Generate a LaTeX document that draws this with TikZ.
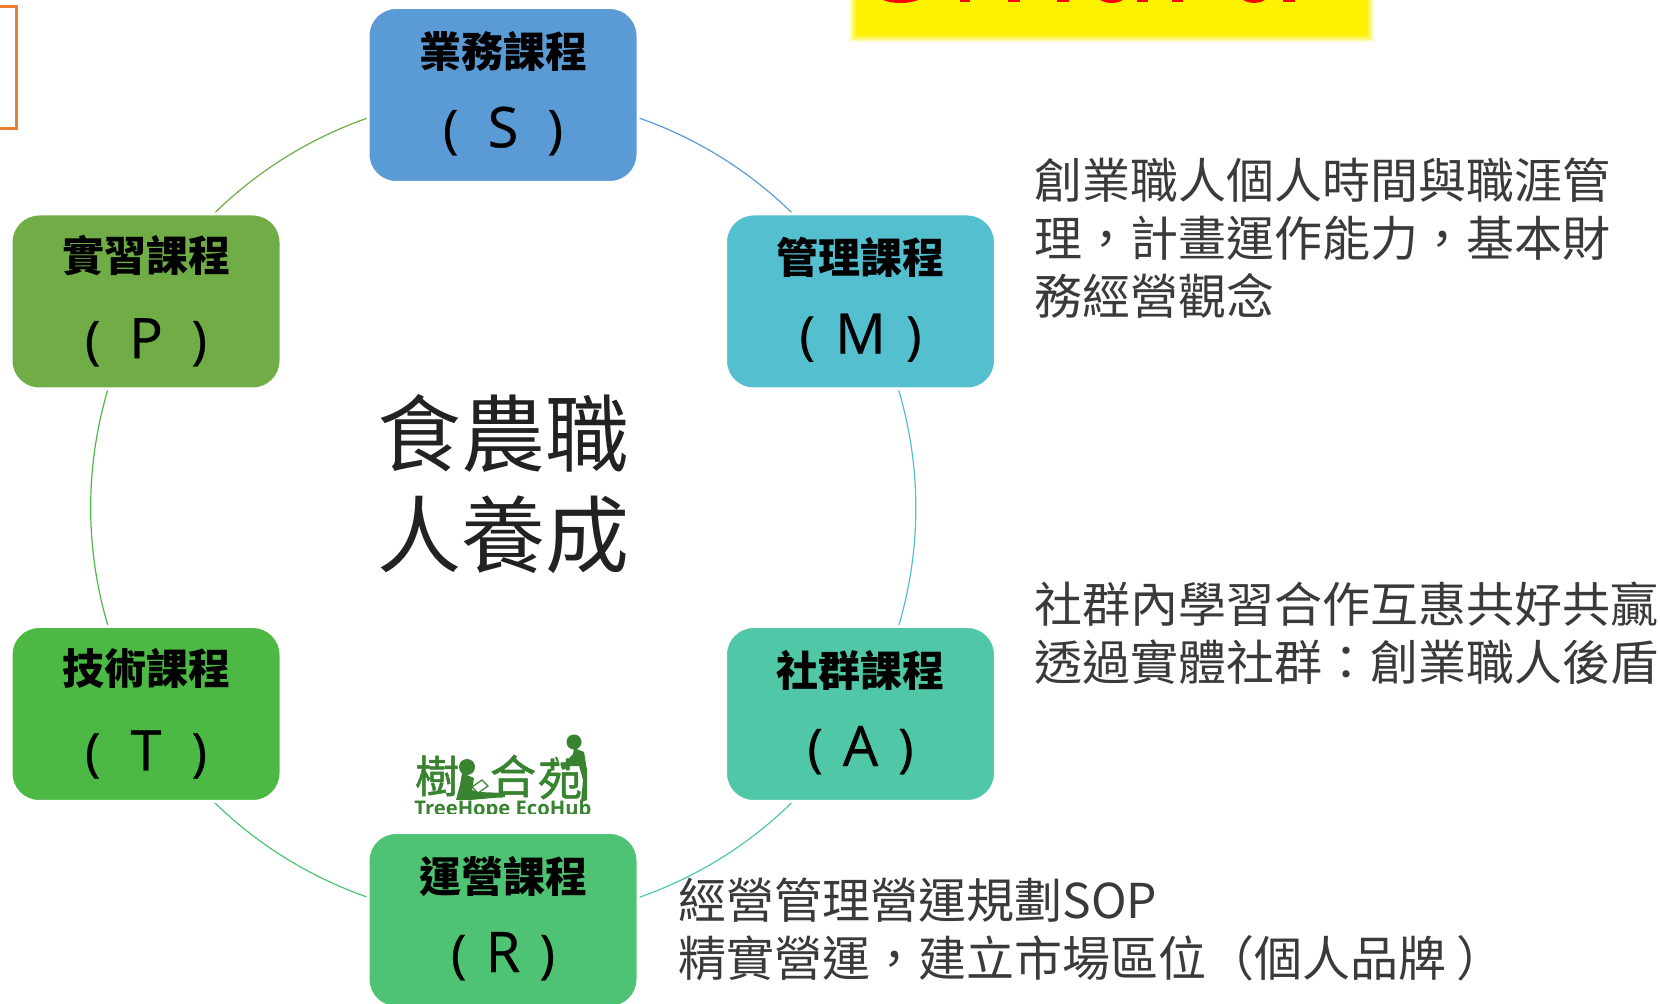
\documentclass[tikz,border=0pt]{standalone}
\usepackage{fontspec}
\setmainfont{Noto Sans CJK TC}
\newfontfamily\latinface{Open Sans}
\newfontfamily\letterface{Open Sans}[FakeBold=0.5]
\newfontfamily\logoface{Noto Sans CJK TC}[FakeBold=1.2]
\usetikzlibrary{calc}
\pgfdeclarelayer{bg}
\pgfsetlayers{bg,main}
\definecolor{cS}{HTML}{5B9BD5}
\definecolor{cM}{HTML}{53BFCF}
\definecolor{cA}{HTML}{50C8A8}
\definecolor{cR}{HTML}{4DC373}
\definecolor{cT}{HTML}{4CB944}
\definecolor{cP}{HTML}{70AD47}
\definecolor{logo}{HTML}{37832F}
\definecolor{ink}{HTML}{3A3A3A}
\definecolor{hubink}{HTML}{222222}
\definecolor{orangeline}{HTML}{ED7D31}
\tikzset{
  course/.style={draw=white,line width=1.5pt,rounded corners=14pt,minimum width=135pt,minimum height=87.5pt,inner sep=0pt,align=center,text=black},
  ring/.style={line width=0.6pt},
  note/.style={anchor=west,align=left,inner sep=0pt,text=ink,font=\fontsize{24}{29}\selectfont},
  hub/.style={align=center,inner sep=0pt,text=hubink,font=\fontsize{42}{50.5}\selectfont},
  logotext/.style={inner sep=0pt,text=logo},
}
\newcommand{\tightlabel}[3]{\raisebox{#3}[\height][\depth]{\fontsize{21}{25}\selectfont\bfseries #1}\\[#2]}
\newcommand{\codeletter}[2]{{\letterface\fontsize{28}{30}\selectfont\makebox[#2]{{\fontsize{26}{30}\selectfont(}\hfill #1\hfill{\fontsize{26}{30}\selectfont)}}}}
\begin{document}
\begin{tikzpicture}[x=0.5pt,y=-0.5pt]
\useasboundingbox (0,0) rectangle (1660,1004);
\clip (0,0) rectangle (1660,1004);
% cut-off elements at the top
\draw[orangeline,line width=1.5pt] (-5,7) -- (16,7) -- (16,129) -- (-5,129);
\fill[yellow,opacity=.25] (850,-5) rectangle (1374,42);
\fill[yellow,opacity=.35] (852,-5) rectangle (1372,40);
\fill[yellow,opacity=.5] (854,-5) rectangle (1370,38);
\fill[yellow,opacity=.7] (856,-5) rectangle (1368,36);
\fill[yellow] (858,-5) rectangle (1366,34);
\fill[red] (883,0) .. controls (892,4) and (909,4) .. (918,0) -- cycle;
\fill[red] (960,0) rectangle (970,2.5);
\fill[red] (1008,0) rectangle (1020,2.5);
\fill[red] (1057,0) rectangle (1069,2.5);
\fill[red] (1100,0) .. controls (1107,4) and (1116,4) .. (1123,0) -- cycle;
\fill[red] (1137,0) rectangle (1148,2.5);
\fill[red] (1172,0) rectangle (1183,2.5);
\fill[red] (1243,0) .. controls (1250,4) and (1258,4) .. (1265,0) -- cycle;
\fill[red] (1283,0) rectangle (1295,2.5);
% course boxes
\node[course,fill=cS] (S) at (503,95)  {\tightlabel{業務課程}{15pt}{1.5pt}\codeletter{S}{60pt}};
\node[course,fill=cM] (M) at (860.5,301.5) {\tightlabel{管理課程}{15pt}{2pt}\codeletter{M}{61pt}};
\node[course,fill=cA] (A) at (860.5,714) {\tightlabel{社群課程}{15pt}{1.5pt}\codeletter{A}{53pt}};
\node[course,fill=cR] (R) at (503,920) {\tightlabel{運營課程}{15pt}{1.5pt}\codeletter{R}{52pt}};
\node[course,fill=cT] (T) at (146,714) {\tightlabel{技術課程}{19.5pt}{0.5pt}\codeletter{T}{61pt}};
\node[course,fill=cP] (P) at (146,301.5) {\tightlabel{實習課程}{19.5pt}{0.5pt}\codeletter{P}{61pt}};
% ring
\begin{pgfonlayer}{bg}
\draw[ring,cS] (S.center) arc[start angle=-90,end angle=-30,radius=413];
\draw[ring,cM] (M.center) arc[start angle=-30,end angle=30,radius=413];
\draw[ring,cA] (A.center) arc[start angle=30,end angle=90,radius=413];
\draw[ring,cR] (R.center) arc[start angle=90,end angle=150,radius=413];
\draw[ring,cT] (T.center) arc[start angle=150,end angle=210,radius=413];
\draw[ring,cP] (P.center) arc[start angle=210,end angle=270,radius=413];
\end{pgfonlayer}
% centre title
\node[hub] (title) at (503,484) {食農職\\人養成};
% notes
\node[note] (n1) at (1034,238) {創業職人個人時間與職涯管\\理，計畫運作能力，基本財\\務經營觀念};
\node[note] (n2) at (1034,633) {社群內學習合作互惠共好共贏\\透過實體社群：創業職人後盾};
\node[note] (n3) at (678,929) {經營管理營運規劃SOP\\精實營運，建立市場區位（個人品牌\hspace{5pt}）};
% logo
\begin{scope}
\clip (405,730) rectangle (600,814);
\node[logotext,font=\logoface\fontsize{22}{26}\selectfont] (l1) at (437,776) {樹};
\node[logotext,font=\logoface\fontsize{23}{26}\selectfont] (l2) at (513,776) {合};
\node[logotext,font=\logoface\fontsize{22}{26}\selectfont] (l3) at (560,779) {苑};
\node[inner sep=0pt,text=logo,anchor=west] (l4) at (414,810) {\latinface\fontsize{10.1}{12}\selectfont\bfseries TreeHope EcoHub};
\fill[logo] (467,767) circle (8);
\fill[logo] (462,773) -- (474,778) -- (472,790) -- (478,792) -- (505,793) -- (505,797) -- (470,800) -- (456,800) -- (460,785) -- cycle;
\draw[logo,line width=0.6pt,fill=white] (472,787) -- (482,780) -- (488,786) -- (478,793) -- cycle;
\fill[logo] (574,742) circle (7.5);
\fill[logo] (574,748) -- (584,752) -- (587,770) -- (587,800) -- (581,802) -- (583,780) -- (578,762) -- (563,770) -- (561,767) -- (573,754) -- cycle;
\draw[logo,line width=1pt] (558,762) -- (556,757) (558,764) -- (552,762);
\end{scope}
\end{tikzpicture}
\end{document}
